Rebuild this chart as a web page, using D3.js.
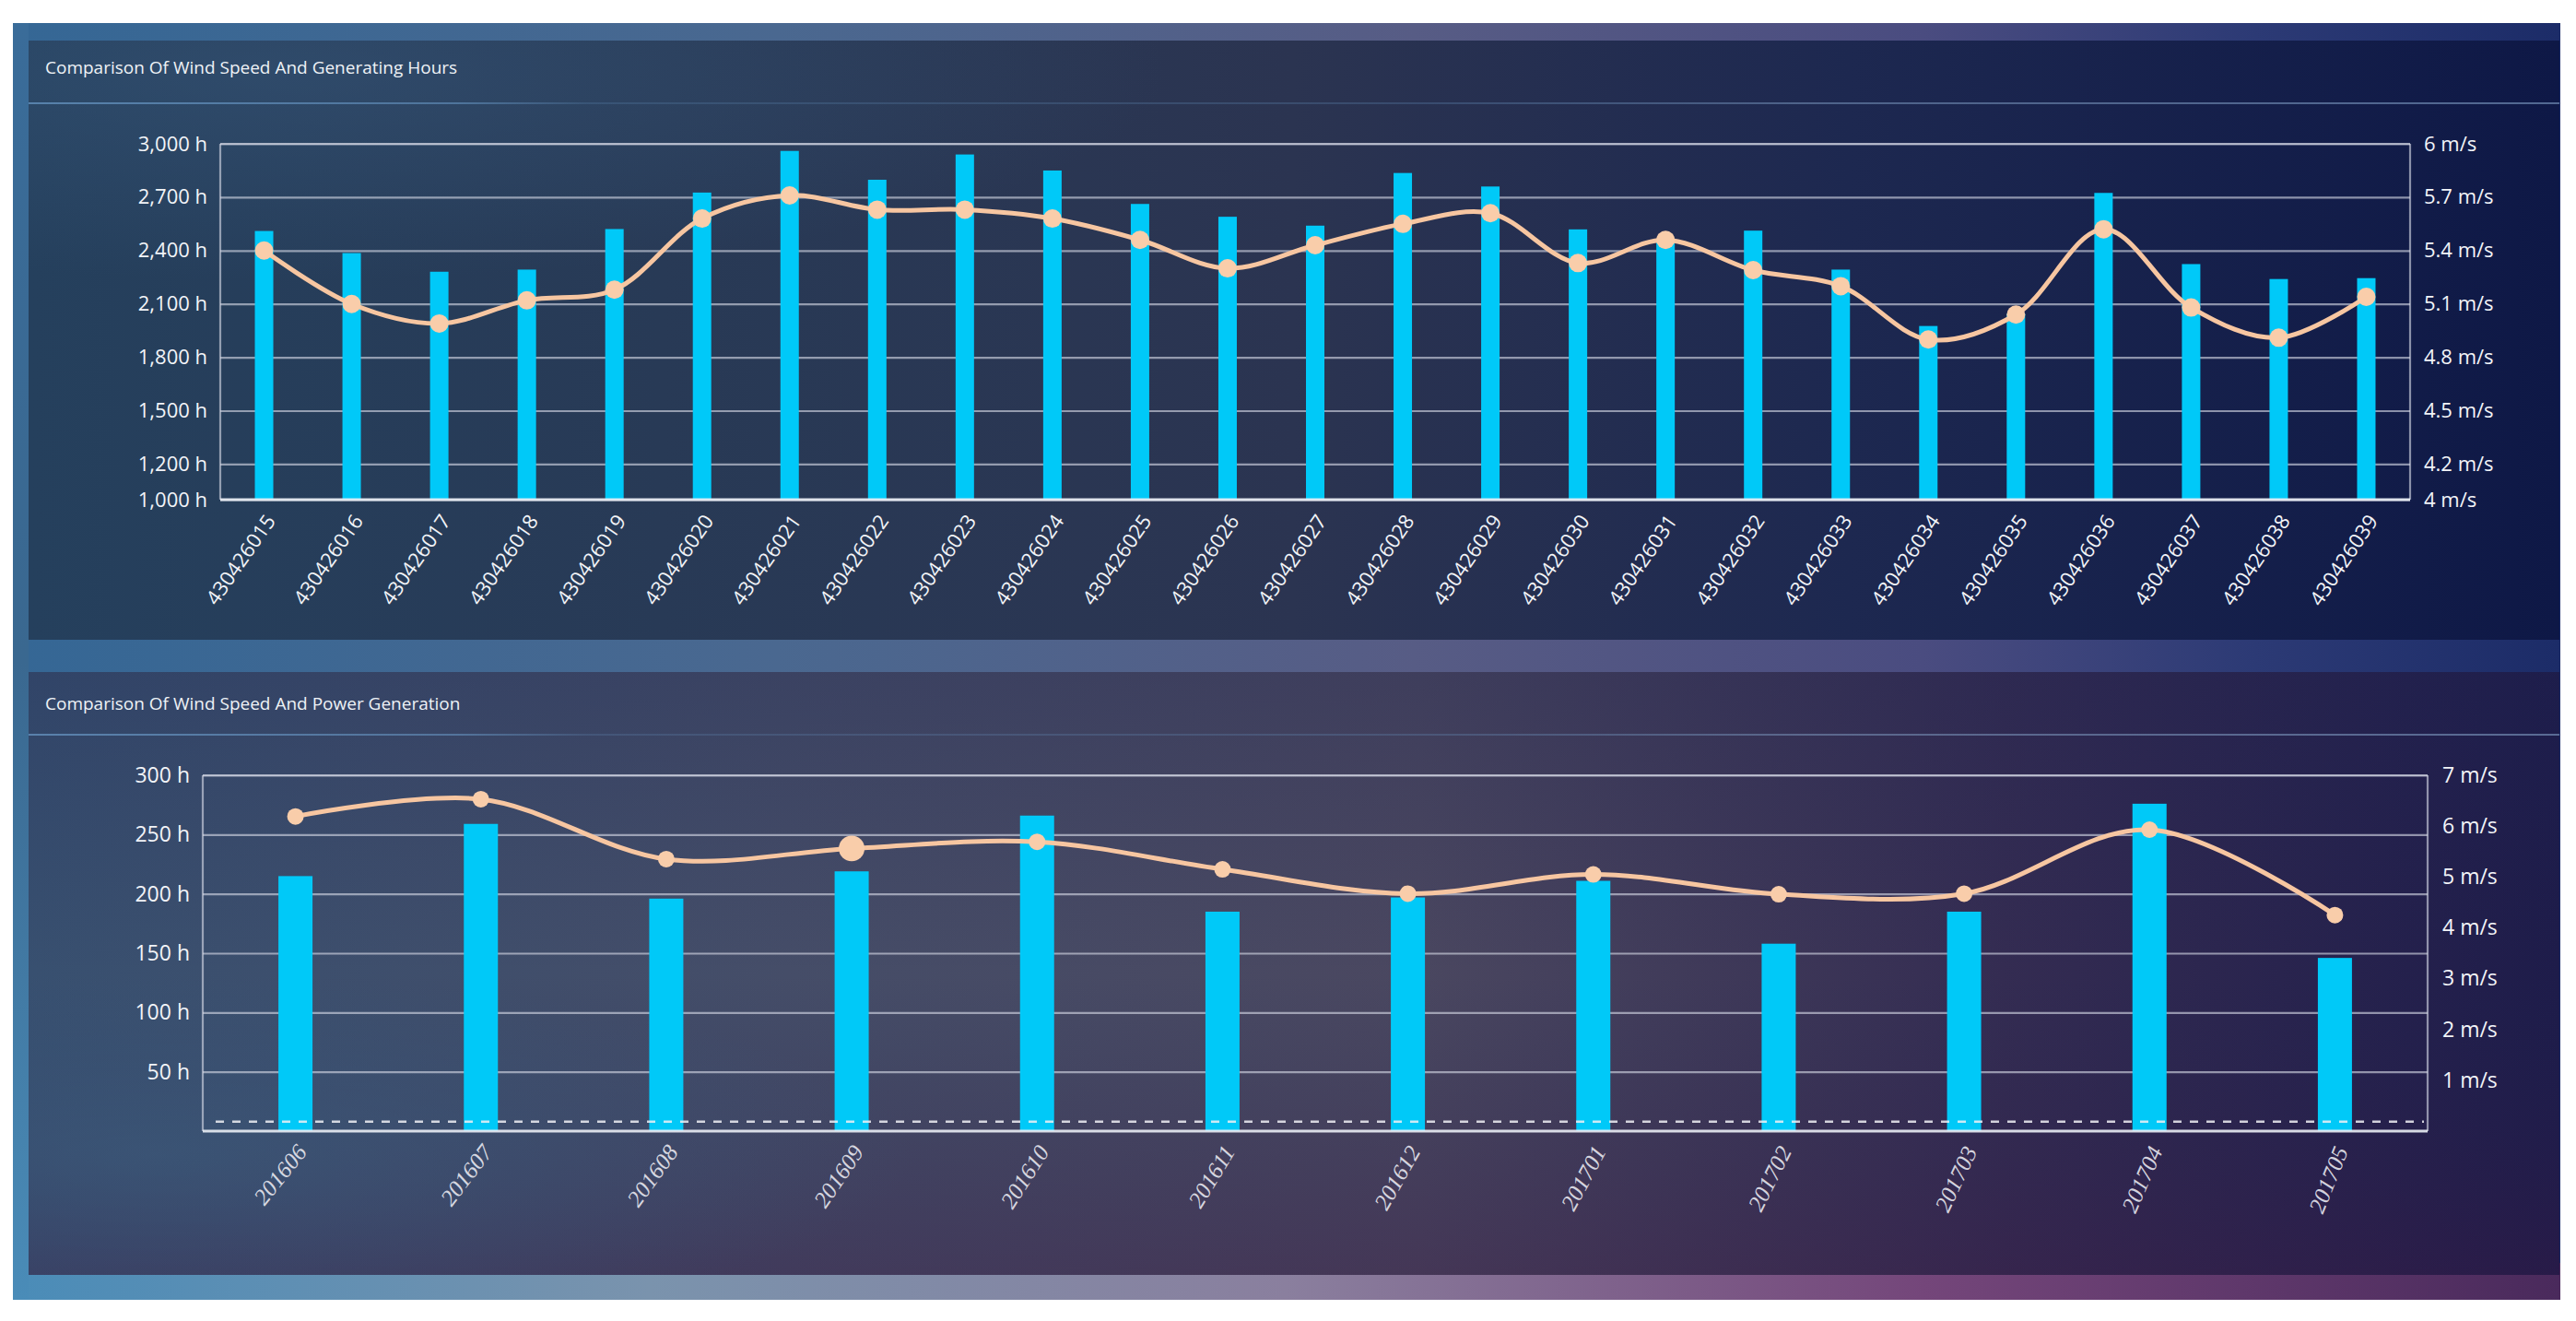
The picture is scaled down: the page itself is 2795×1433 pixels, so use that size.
<!DOCTYPE html>
<html>
<head>
<meta charset="utf-8">
<script src="https://cdn.jsdelivr.net/npm/d3@7"></script>
<style>
  html, body { margin: 0; padding: 0; background: #ffffff; }
  svg { display: block; }
</style>
</head>
<body>
<svg id="chart" width="2795" height="1433"></svg>
<script>
// ---------------- DATA ----------------
const topCategories = ["430426015","430426016","430426017","430426018","430426019","430426020","430426021","430426022","430426023","430426024","430426025","430426026","430426027","430426028","430426029","430426030","430426031","430426032","430426033","430426034","430426035","430426036","430426037","430426038","430426039"];
const topHours = [2510, 2386, 2281, 2293, 2521, 2726, 2960, 2798, 2940, 2850, 2662, 2590, 2540, 2836, 2760, 2519, 2455, 2512, 2293, 1976, 2045, 2724, 2324, 2240, 2245];
const topSpeed = [5.40, 5.10, 4.99, 5.12, 5.18, 5.58, 5.71, 5.63, 5.63, 5.58, 5.46, 5.30, 5.43, 5.55, 5.61, 5.33, 5.46, 5.29, 5.20, 4.90, 5.04, 5.52, 5.08, 4.91, 5.14];
const topHourTicks = [1000, 1200, 1500, 1800, 2100, 2400, 2700, 3000];
const topSpeedTicks = [4, 4.2, 4.5, 4.8, 5.1, 5.4, 5.7, 6];
const topTitle = "Comparison Of Wind Speed And Generating Hours";

const bottomCategories = ["201606","201607","201608","201609","201610","201611","201612","201701","201702","201703","201704","201705"];
const bottomHours = [215, 259, 196, 219, 266, 185, 197, 211, 158, 185, 276, 146];
const bottomSpeed = [6.19, 6.53, 5.35, 5.56, 5.69, 5.15, 4.67, 5.05, 4.66, 4.67, 5.93, 4.25];
const bottomHourTicks = [50, 100, 150, 200, 250, 300];
const bottomSpeedTicks = [1, 2, 3, 4, 5, 6, 7];
const bottomReference = 8;
const bottomHighlight = "201609";
const bottomTitle = "Comparison Of Wind Speed And Power Generation";

// ---------------- DRAWING ----------------
const svg = d3.select("#chart");
const defs = svg.append("defs");

function linGrad(id, x1, y1, x2, y2, stops) {
  const g = defs.append("linearGradient").attr("id", id)
    .attr("x1", x1).attr("y1", y1).attr("x2", x2).attr("y2", y2);
  stops.forEach(s => g.append("stop").attr("offset", s[0]).attr("stop-color", s[1]).attr("stop-opacity", s[2] == null ? 1 : s[2]));
  return g;
}
function radGrad(id, cx, cy, r, stops) {
  const g = defs.append("radialGradient").attr("id", id)
    .attr("cx", cx).attr("cy", cy).attr("r", r);
  stops.forEach(s => g.append("stop").attr("offset", s[0]).attr("stop-color", s[1]).attr("stop-opacity", s[2] == null ? 1 : s[2]));
  return g;
}

// outer frame
linGrad("outerH", "0", "0", "1", "0", [["0%", "#356795"], ["30%", "#4a6890"], ["55%", "#575c85"], ["75%", "#4a4c80"], ["88%", "#2c3a75"], ["100%", "#1c2c68"]]);
linGrad("bottomStrip", "0", "0", "1", "0", [["0%", "#4a8cb8"], ["25%", "#7a93ad"], ["50%", "#8a7f9e"], ["75%", "#74467a"], ["100%", "#4a2a5c"]]);
linGrad("leftStrip", "0", "0", "0", "1", [["0%", "#3a6c99"], ["50%", "#3a6890"], ["100%", "#4a8cb8"]]);
svg.append("rect").attr("x", 14).attr("y", 25).attr("width", 2764).attr("height", 1385).attr("fill", "url(#outerH)");
svg.append("rect").attr("x", 14).attr("y", 1370).attr("width", 2764).attr("height", 40).attr("fill", "url(#bottomStrip)");
svg.append("rect").attr("x", 14).attr("y", 25).attr("width", 17).attr("height", 1385).attr("fill", "url(#leftStrip)");

// panels
linGrad("topPanel", "0", "0", "1", "0", [["0%", "#25405d"], ["25%", "#283a56"], ["50%", "#2b3451"], ["72%", "#1d2850"], ["100%", "#0e1846"]]);
radGrad("topGlow", "0.1", "0.05", "0.35", [["0%", "#3a5a7e", 0.45], ["100%", "#3a5a7e", 0]]);
linGrad("botPanel", "0", "0", "1", "0", [["0%", "#385070"], ["30%", "#454d68"], ["55%", "#4a4760"], ["78%", "#342c52"], ["100%", "#1e1c4a"]]);
linGrad("botShade", "0", "0", "0", "1", [["0%", "#1c2250", 0.25], ["50%", "#1c2250", 0], ["100%", "#3a1844", 0.35]]);
radGrad("botGlowL", "0.05", "0.8", "0.3", [["0%", "#3d6282", 0.5], ["100%", "#3d6282", 0]]);

function panel(y, h, fill, overlays) {
  svg.append("rect").attr("x", 31).attr("y", y).attr("width", 2746).attr("height", h).attr("fill", fill);
  overlays.forEach(o => svg.append("rect").attr("x", 31).attr("y", y).attr("width", 2746).attr("height", h).attr("fill", o));
}
panel(44, 650, "url(#topPanel)", ["url(#topGlow)"]);
panel(729, 654, "url(#botPanel)", ["url(#botShade)", "url(#botGlowL)"]);

// separator lines under titles
linGrad("sepLine", "0", "0", "1", "0", [["0%", "#6a9ac8", 0.7], ["17%", "#6a9ac8", 0.55], ["22%", "#6a9ac8", 0.2], ["55%", "#6a9ac8", 0.25], ["70%", "#8aaad0", 0.45], ["100%", "#8aaad0", 0.55]]);
svg.append("rect").attr("x", 31).attr("y", 111).attr("width", 2746).attr("height", 2).attr("fill", "url(#sepLine)");
svg.append("rect").attr("x", 31).attr("y", 796).attr("width", 2746).attr("height", 2).attr("fill", "url(#sepLine)");

// titles
svg.append("text").attr("x", 49).attr("y", 80).text(topTitle)
  .attr("font-family", "Open Sans").attr("font-size", 19).attr("fill", "#eef2f6");
svg.append("text").attr("x", 49).attr("y", 770).text(bottomTitle)
  .attr("font-family", "Open Sans").attr("font-size", 19).attr("fill", "#eef2f6");

const barColor = "#00c9f8";
const lineColor = "#f7c6a1";
const gridColor = "rgba(215,218,230,0.62)";

function drawCombo(cfg) {
  const { cats, hours, speed, hourTicks, speedTicks, left, right, top, bottom,
          hourDomain, speedDomain, barW, r, labelStyle, hourFont, speedFont } = cfg;
  const g = svg.append("g");
  const x = d3.scaleBand().domain(cats).range([left, right]).padding(0);
  const yH = d3.scaleLinear().domain(hourDomain).range([bottom, top]);
  const yS = d3.scaleLinear().domain(speedDomain).range([bottom, top]);

  // grid via axis
  const grid = g.append("g").attr("transform", `translate(${left},0)`)
    .call(d3.axisLeft(yH).tickValues(hourTicks).tickSize(-(right - left)).tickFormat(""));
  grid.select(".domain").remove();
  grid.selectAll("line").attr("stroke", gridColor).attr("stroke-width", 2.2);

  // frame
  g.append("line").attr("x1", left).attr("x2", left).attr("y1", top).attr("y2", bottom).attr("stroke", gridColor).attr("stroke-width", 2.2);
  g.append("line").attr("x1", right).attr("x2", right).attr("y1", top).attr("y2", bottom).attr("stroke", gridColor).attr("stroke-width", 2.2);
  g.append("line").attr("x1", left).attr("x2", right).attr("y1", top).attr("y2", top).attr("stroke", gridColor).attr("stroke-width", 2.2);

  // left axis labels
  const la = g.append("g").attr("transform", `translate(${left},0)`)
    .call(d3.axisLeft(yH).tickValues(hourTicks).tickSize(0).tickPadding(14).tickFormat(d => d3.format(",")(d) + " h"));
  la.select(".domain").remove();
  la.selectAll("text").attr("font-family", "Open Sans").attr("font-size", hourFont).attr("fill", "#f2f4f8");

  // right axis labels
  const ra = g.append("g").attr("transform", `translate(${right},0)`)
    .call(d3.axisRight(yS).tickValues(speedTicks).tickSize(0).tickPadding(cfg.rightPad).tickFormat(d => d + " m/s"));
  ra.select(".domain").remove();
  ra.selectAll("text").attr("font-family", "Open Sans").attr("font-size", speedFont).attr("fill", "#f2f4f8");

  // bars
  g.append("g").selectAll("rect").data(cats).join("rect")
    .attr("x", (d) => x(d) + x.bandwidth() / 2 - barW / 2)
    .attr("y", (d, i) => yH(hours[i]))
    .attr("width", barW)
    .attr("height", (d, i) => bottom - yH(hours[i]))
    .attr("fill", barColor);

  if (cfg.refValue != null) {
    g.append("line").attr("x1", left + 14).attr("x2", right - 4)
      .attr("y1", yH(cfg.refValue)).attr("y2", yH(cfg.refValue))
      .attr("stroke", "rgba(240,240,245,0.85)").attr("stroke-width", 2.5).attr("stroke-dasharray", "9 9");
  }

  // baseline
  g.append("line").attr("x1", left).attr("x2", right).attr("y1", bottom).attr("y2", bottom)
    .attr("stroke", "rgba(235,238,245,0.9)").attr("stroke-width", 3);

  // line
  const pts = cats.map((c, i) => [x(c) + x.bandwidth() / 2, yS(speed[i])]);
  g.append("path").attr("d", d3.line().curve(d3.curveCatmullRom.alpha(0.5))(pts))
    .attr("fill", "none").attr("stroke", lineColor).attr("stroke-width", 5);
  g.append("g").selectAll("circle").data(cats).join("circle")
    .attr("cx", (d) => x(d) + x.bandwidth() / 2)
    .attr("cy", (d, i) => yS(speed[i]))
    .attr("r", d => d === cfg.highlight ? r * 1.55 : r)
    .attr("fill", "#f9cdaa");

  // x labels
  const n = cats.length;
  g.append("g").selectAll("text").data(cats).join("text")
    .attr("transform", (d, i) => {
      const a = labelStyle.angle0 + (labelStyle.angle1 - labelStyle.angle0) * i / (n - 1);
      return `translate(${x(d) + x.bandwidth() / 2 + labelStyle.dx},${bottom + labelStyle.dy}) rotate(${a})`;
    })
    .attr("text-anchor", "end").attr("dominant-baseline", "central")
    .attr("font-family", labelStyle.family).attr("font-style", labelStyle.style)
    .attr("font-size", labelStyle.size).attr("fill", labelStyle.fill)
    .text(d => d);
}

drawCombo({
  cats: topCategories, hours: topHours, speed: topSpeed,
  hourTicks: topHourTicks, speedTicks: topSpeedTicks,
  left: 239, right: 2615, top: 156, bottom: 542,
  hourDomain: [1000, 3000], speedDomain: [4, 6],
  barW: 20, r: 10, hourFont: 22, speedFont: 22, rightPad: 15,
  labelStyle: { dx: 6, dy: 18, angle0: -55, angle1: -56, family: "Open Sans", style: "normal", size: 22, fill: "#f2f4f8" }
});

drawCombo({
  cats: bottomCategories, hours: bottomHours, speed: bottomSpeed,
  hourTicks: bottomHourTicks, speedTicks: bottomSpeedTicks,
  left: 220, right: 2634, top: 841, bottom: 1227,
  hourDomain: [0, 300], speedDomain: [0, 7],
  barW: 37, r: 9, hourFont: 23, speedFont: 23, rightPad: 16,
  refValue: bottomReference, highlight: bottomHighlight,
  labelStyle: { dx: 7, dy: 18, angle0: -51, angle1: -68, family: "Liberation Serif", style: "italic", size: 25, fill: "rgba(235,235,242,0.9)" }
});
</script>
</body>
</html>
